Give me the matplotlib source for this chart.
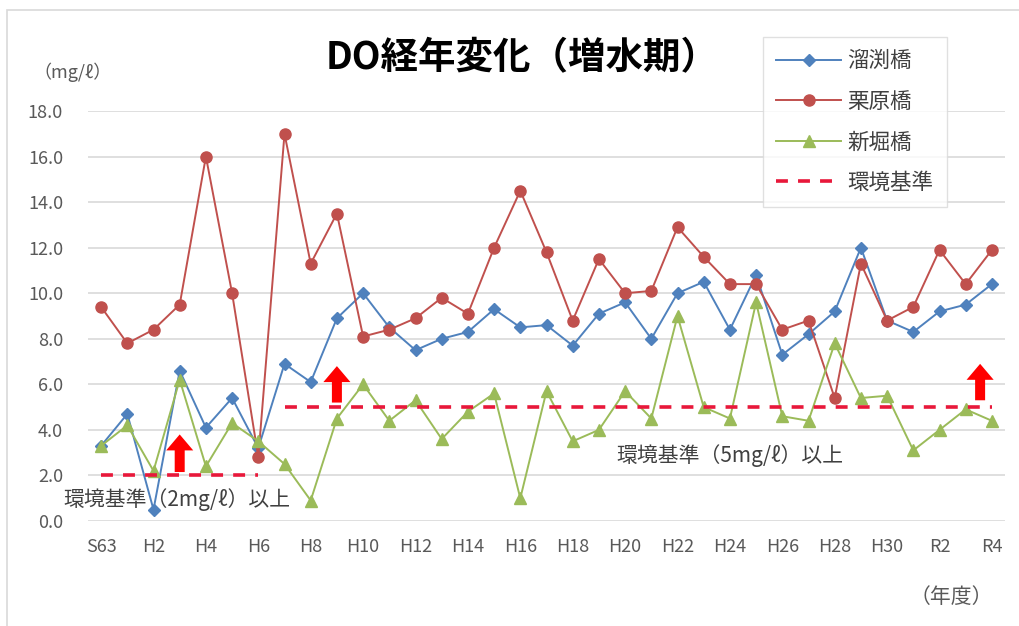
import matplotlib
matplotlib.use("Agg")
import matplotlib.pyplot as plt
from matplotlib.lines import Line2D
from matplotlib.patches import Rectangle

plt.rcParams['font.family'] = ['Noto Sans CJK JP', 'DejaVu Sans']

years = ["S63"] + [f"H{i}" for i in range(1, 31)] + ["R1", "R2", "R3", "R4"]

tamebuchi = [3.3, 4.7, 0.5, 6.6, 4.1, 5.4, 3.2, 6.9, 6.1, 8.9, 10.0, 8.5, 7.5, 8.0, 8.3,
             9.3, 8.5, 8.6, 7.7, 9.1, 9.6, 8.0, 10.0, 10.5, 8.4, 10.8, 7.3, 8.2, 9.2, 12.0,
             8.8, 8.3, 9.2, 9.5, 10.4]
kurihara = [9.4, 7.8, 8.4, 9.5, 16.0, 10.0, 2.8, 17.0, 11.3, 13.5, 8.1, 8.4, 8.9, 9.8, 9.1,
            12.0, 14.5, 11.8, 8.8, 11.5, 10.0, 10.1, 12.9, 11.6, 10.4, 10.4, 8.4, 8.8, 5.4, 11.3,
            8.8, 9.4, 11.9, 10.4, 11.9]
shinbori = [3.3, 4.2, 2.2, 6.2, 2.4, 4.3, 3.5, 2.5, 0.9, 4.5, 6.0, 4.4, 5.3, 3.6, 4.8,
            5.6, 1.0, 5.7, 3.5, 4.0, 5.7, 4.5, 9.0, 5.0, 4.5, 9.6, 4.6, 4.4, 7.8, 5.4,
            5.5, 3.1, 4.0, 4.9, 4.4]

std1_years = ["S63", "H6"]
std1_value = 2.0
std2_years = ["H7", "R4"]
std2_value = 5.0

series_names = ["溜渕橋", "栗原橋", "新堀橋"]
std_name = "環境基準"
yticks = [0, 2, 4, 6, 8, 10, 12, 14, 16, 18]

x = list(range(len(years)))
idx = {y: i for i, y in enumerate(years)}

fig = plt.figure(figsize=(10.19, 6.26), dpi=100)
ax = fig.add_axes([88/1019, 1-521/626, (1005-88)/1019, (521-111)/626])

c_blue = "#4F81BD"
c_red = "#C0504D"
c_green = "#9BBB59"
c_std = "#E8183A"

ax.plot(x, tamebuchi, color=c_blue, marker="D", markersize=6.5, lw=1.4, zorder=3)
ax.plot(x, kurihara, color=c_red, marker="o", markersize=8, lw=1.4, zorder=3)
ax.plot(x, shinbori, color=c_green, marker="^", markersize=8, lw=1.4, zorder=3)

dash = (3.3, 2.8)
ax.plot([idx[std1_years[0]], idx[std1_years[1]]], [std1_value]*2, color=c_std, lw=2.6,
        dashes=dash, zorder=4)
ax.plot([idx[std2_years[0]], idx[std2_years[1]]], [std2_value]*2, color=c_std, lw=2.6,
        dashes=dash, zorder=4)

# arrows
for (ax_x, y0, y1) in [(3, 2.15, 3.8), (9.0, 5.2, 6.8), (33.55, 5.3, 6.9)]:
    ax.annotate("", xy=(ax_x, y1), xytext=(ax_x, y0),
                arrowprops=dict(arrowstyle="simple,head_length=1.15,head_width=1.95,tail_width=0.72",
                                color="#FF0000", lw=0, mutation_scale=10,
                                shrinkA=0, shrinkB=0), zorder=5)

ax.text(-1.45, 0.95, "環境基準（2mg/ℓ）以上", fontsize=15, color="#404040",
        ha="left", va="center", zorder=6)
ax.text(19.65, 2.85, "環境基準（5mg/ℓ）以上", fontsize=15, color="#404040",
        ha="left", va="center", zorder=6)

ax.set_xlim(-0.5, len(years) - 0.5)
ax.set_ylim(0, 18)
ax.set_yticks(yticks)
ax.set_yticklabels([f"{v:.1f}" for v in yticks])
ax.set_xticks(x[::2])
ax.set_xticklabels(years[::2])
ax.tick_params(axis="both", length=0, labelsize=13, labelcolor="#595959")
ax.tick_params(axis="y", pad=18)
ax.tick_params(axis="x", pad=12)
ax.grid(axis="y", color="#D9D9D9", lw=1.2)
ax.set_axisbelow(True)
for s in ax.spines.values():
    s.set_visible(False)

fig.text(522/1019, 1-58/626, "DO経年変化（増水期）", fontsize=27, fontweight="bold",
         ha="center", va="center", color="#000000")
fig.text(33/1019, 1-72/626, "（mg/ℓ）", fontsize=13, ha="left", va="center", color="#595959")
fig.text(993/1019, 1-597/626, "（年度）", fontsize=15, ha="right", va="center", color="#595959")

handles = [
    Line2D([], [], color=c_blue, marker="D", markersize=6.5, lw=1.4),
    Line2D([], [], color=c_red, marker="o", markersize=8, lw=1.4),
    Line2D([], [], color=c_green, marker="^", markersize=8, lw=1.4),
    Line2D([], [], color=c_std, lw=2.6, dashes=dash),
]
leg = fig.legend(handles, series_names + [std_name], loc="upper left",
                 bbox_to_anchor=(763/1019, 1-37/626), fontsize=15.5, frameon=True,
                 fancybox=False, edgecolor="#D9D9D9", handlelength=3.0,
                 labelspacing=0.86, borderpad=0.62, handletextpad=0.3, borderaxespad=0)
leg.get_frame().set_linewidth(1.0)
for t in leg.get_texts():
    t.set_color("#404040")

fig.patches.append(Rectangle((7/1019, -0.1), 1.2, 1 - 10/626 + 0.1, transform=fig.transFigure,
                             fill=False, edgecolor="#D9D9D9", lw=1.2))

fig.savefig("out.png", dpi=100)
